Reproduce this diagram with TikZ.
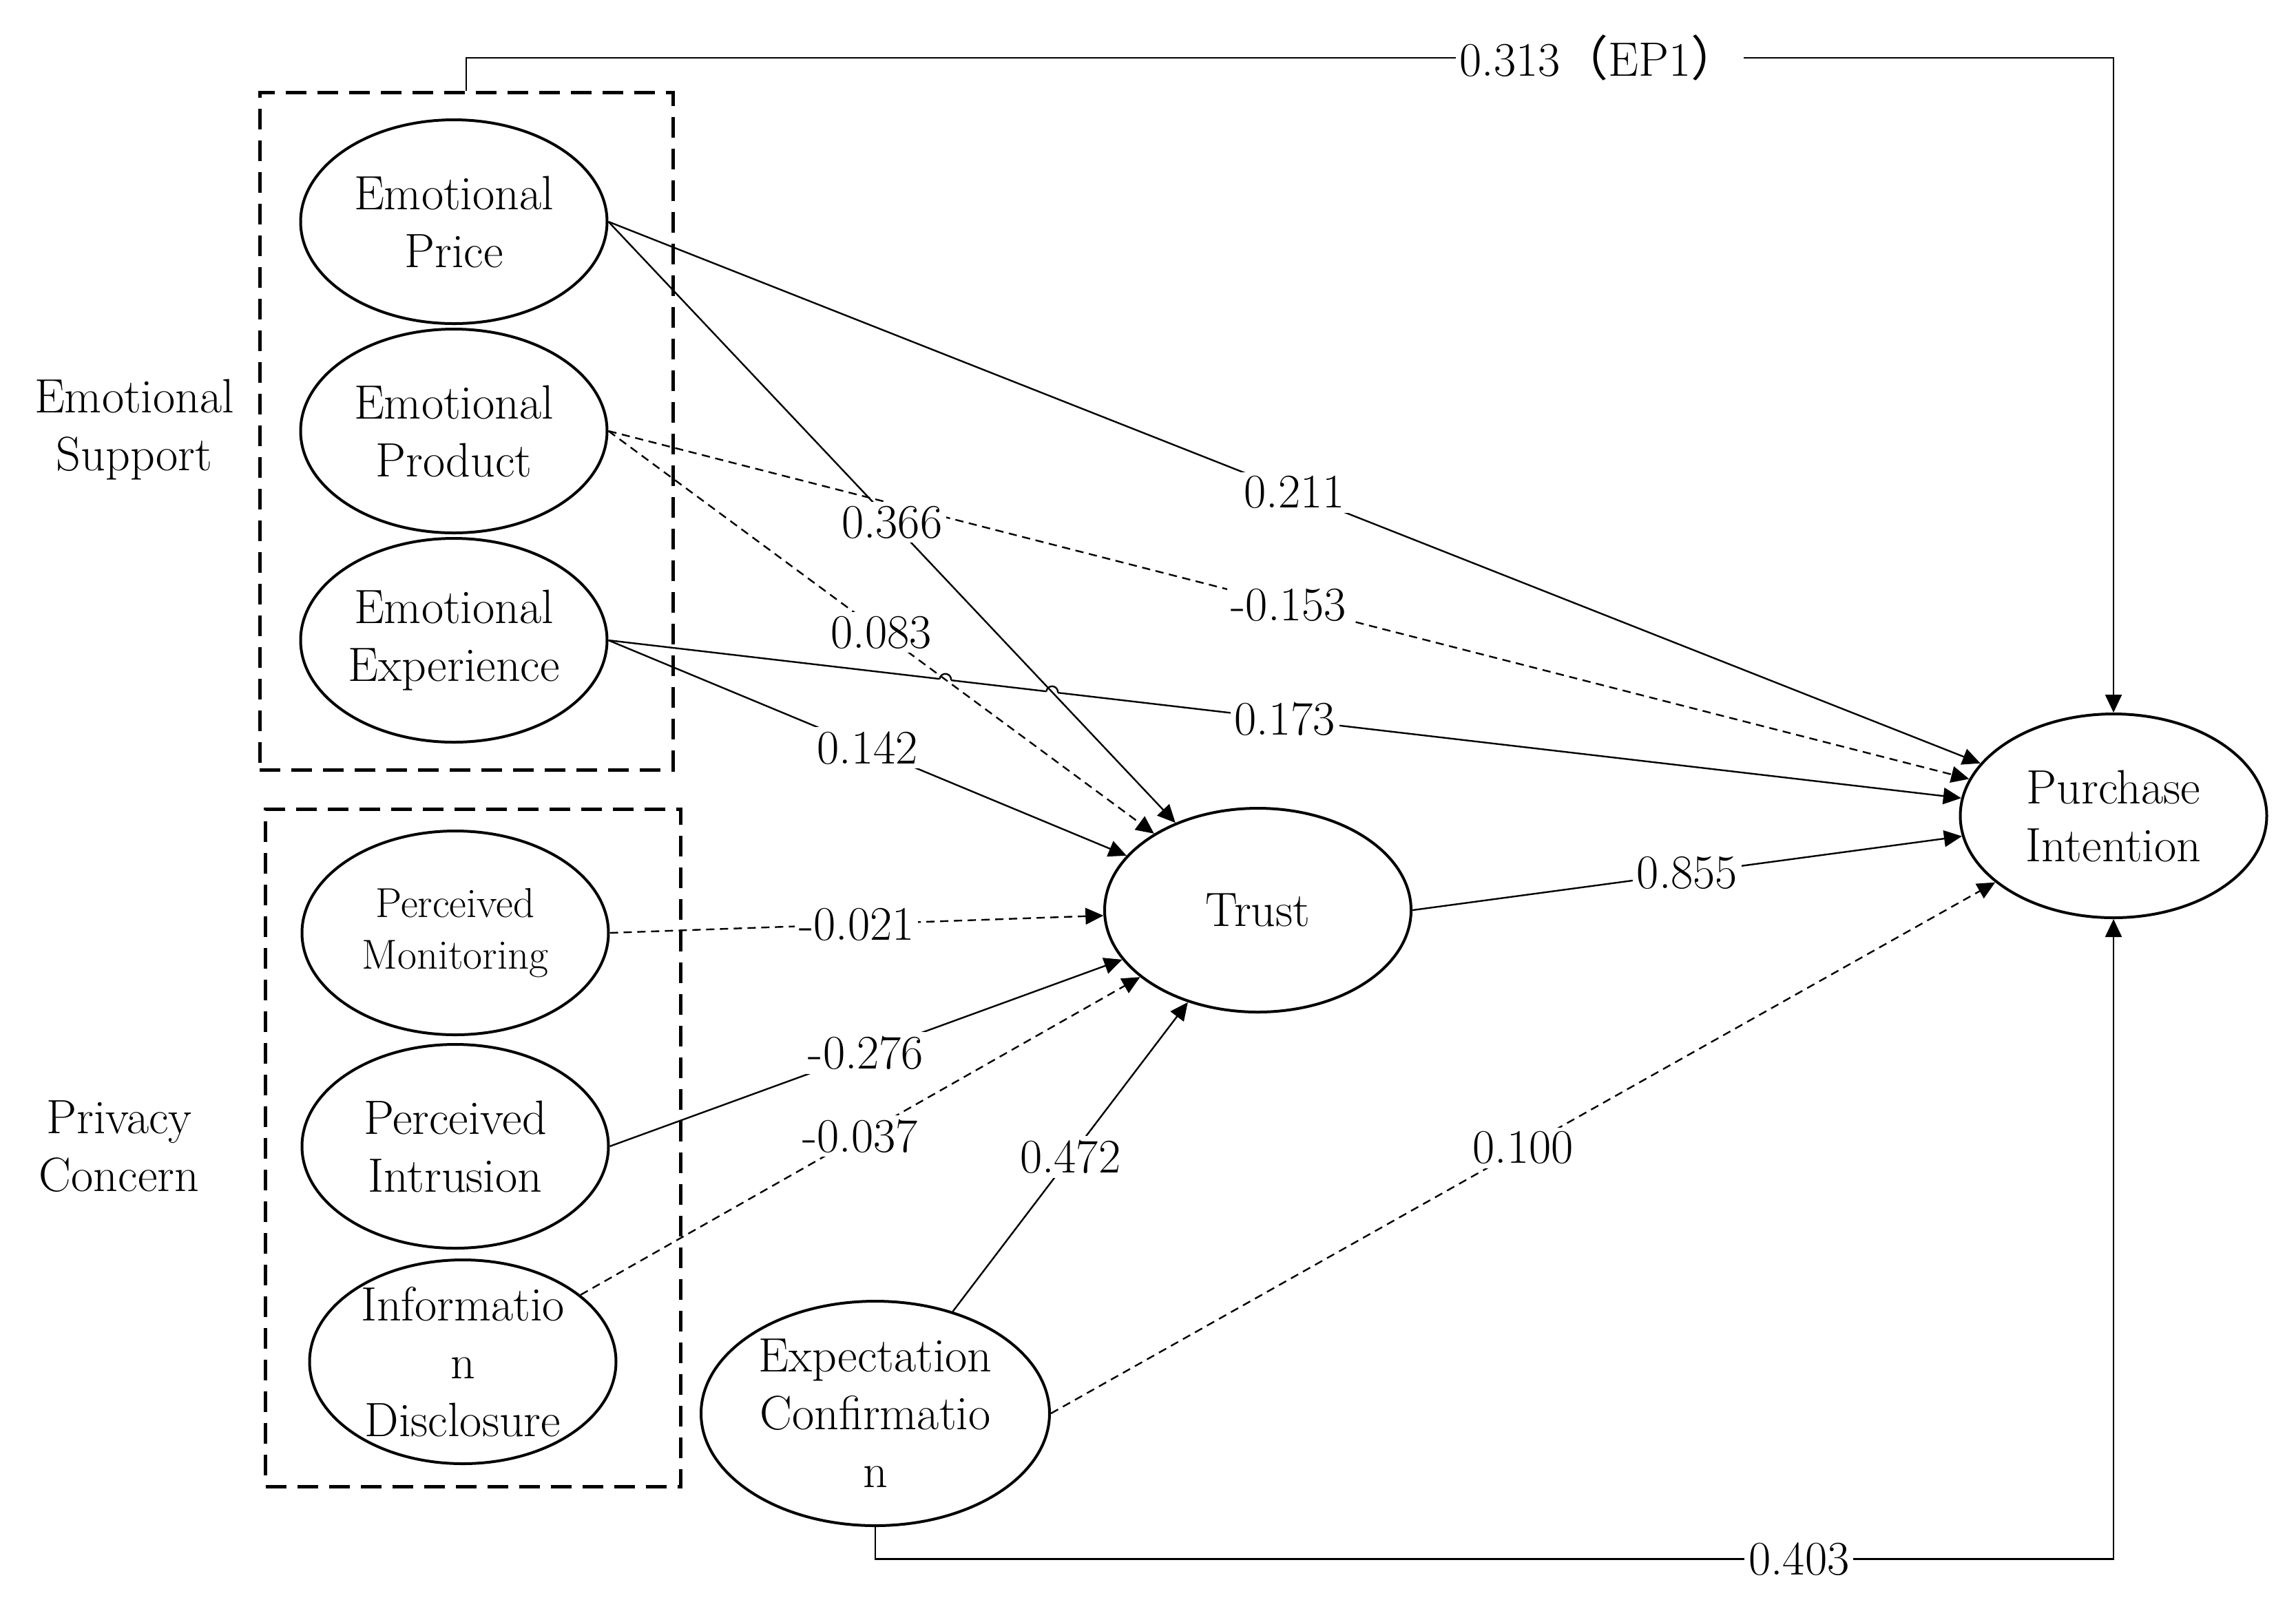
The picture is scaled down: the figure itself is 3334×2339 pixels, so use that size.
\documentclass[tikz,border=0pt]{standalone}
\usepackage{fontspec}
\newfontfamily\cjkfont{Noto Sans CJK SC}
\usetikzlibrary{shapes.geometric,arrows.meta,intersections}
\begin{document}
\begin{tikzpicture}[x=0.25pt,y=-0.25pt,
  lat/.style={ellipse,draw,line width=1pt,minimum width=111.25pt,minimum height=74pt,inner sep=0pt},
  txt/.style={align=center,font=\fontsize{17.5}{21}\selectfont,inner sep=0pt},
  smalltxt/.style={align=center,font=\fontsize{15.2}{18.75}\selectfont,inner sep=0pt},
  grp/.style={draw,line width=1.25pt,dash pattern=on 7.5pt off 4pt,minimum width=150pt,minimum height=246pt,inner sep=0pt},
  conn/.style={line width=0.6pt,-{Triangle[length=6.5pt,width=6pt]}},
  dconn/.style={conn,dash pattern=on 3pt off 2pt},
  lbl/.style={fill=white,inner sep=1.5pt,font=\fontsize{17.5}{21}\selectfont},
]
\useasboundingbox (0,0) rectangle (3334,2339);

% group boxes
\node[grp] (ESbox) at (677,626) {};
\node[grp,minimum width=150.75pt] (PCbox) at (687.4,1667) {};
\node[txt] (ESlab) at (195,624) {Emotional\\Support};
\node[txt] (PClab) at (173,1665) {Privacy\\Concern};

% latent variables
\node[lat] (EP) at (659,322) {};
\node[txt] (EPt) at (EP) {Emotional\\Price};
\node[lat] (EPr) at (659,626) {};
\node[txt] (EPrt) at (EPr) {Emotional\\Product};
\node[lat] (EE) at (659,930) {};
\node[txt] (EEt) at (EE) {Emotional\\Experience};
\node[lat] (PM) at (661,1355) {};
\node[smalltxt] (PMt) at (PM) {Perceived\\Monitoring};
\node[lat] (PIn) at (661,1665) {};
\node[txt] (PInt) at (PIn) {Perceived\\Intrusion};
\node[lat] (ID) at (672,1978) {};
\node[txt] (IDt) at (ID) {Informatio\\n\\Disclosure};
\node[lat] (Trust) at (1826.5,1322) {};
\node[txt] (Trustt) at (Trust) {Trust};
\node[lat] (PurI) at (3069,1185) {};
\node[txt] (PurIt) at (PurI) {Purchase\\Intention};
\node[lat,minimum width=126.5pt,minimum height=81.5pt] (EC) at (1271,2053) {};
\node[txt] (ECt) at (EC) {Expectation\\Confirmatio\\n};

% connectors
\draw[conn,name path=eepi] (EE.east) -- (PurI);
\draw[conn] (EE.east) -- (Trust);
\draw[conn] (EP.east) -- (PurI);
\draw[dconn] (EPr.east) -- (PurI);
\draw[dconn] (PM.east) -- (Trust);
\draw[conn] (PIn.east) -- (Trust);
\draw[dconn] (ID) -- (Trust);
\draw[conn] (EC) -- (Trust);
\draw[dconn] (EC.east) -- (PurI);
\draw[conn] (Trust.east) -- (PurI);
\draw[conn] (ESbox.north) -- ++(0,-47.5) -| (PurI.north);
\draw[conn] (EC.south) -- ++(0,46.4) -| (PurI.south);

% line hops
\path[name path=eptr] (EP.east) -- (Trust);
\path[name path=eprtr] (EPr.east) -- (Trust);
\path[name intersections={of=eepi and eptr,by=X1}];
\path[name intersections={of=eepi and eprtr,by=X2}];
\foreach \p in {X1,X2} {
  \fill[white] (\p) circle[radius=2.1pt];
  \draw[line width=0.6pt,shift={(\p)},rotate=-6.5] (-2.1pt,0) arc[start angle=180,end angle=0,radius=2.1pt];
}
\draw[conn] (EP.east) -- (Trust);
\draw[dconn] (EPr.east) -- (Trust);

% labels
\path (EP.east) -- node[lbl]{0.366} (Trust);
\path (EP.east) -- node[lbl]{0.211} (PurI);
\path (EPr.east) -- node[lbl]{-0.153} (PurI);
\path (EPr.east) -- node[lbl]{0.083} (Trust);
\path (EE.east) -- node[lbl]{0.173} (PurI);
\path (EE.east) -- node[lbl]{0.142} (Trust);
\path (PM.east) -- node[lbl]{-0.021} (Trust);
\path (PIn.east) -- node[lbl]{-0.276} (Trust);
\path (ID) -- node[lbl]{-0.037} (Trust);
\path (EC) -- node[lbl]{0.472} (Trust);
\path (EC.east) -- node[lbl]{0.100} (PurI);
\path (Trust.east) -- node[lbl]{0.855} (PurI);
\path (ESbox.north) -- ++(0,-47.5) -| node[lbl,pos=0.344]{0.313{\cjkfont （}EP1{\cjkfont ）}} (PurI.north);
\path (EC.south) -- ++(0,46.4) -| node[lbl,pos=0.373]{0.403} (PurI.south);
\end{tikzpicture}
\end{document}
